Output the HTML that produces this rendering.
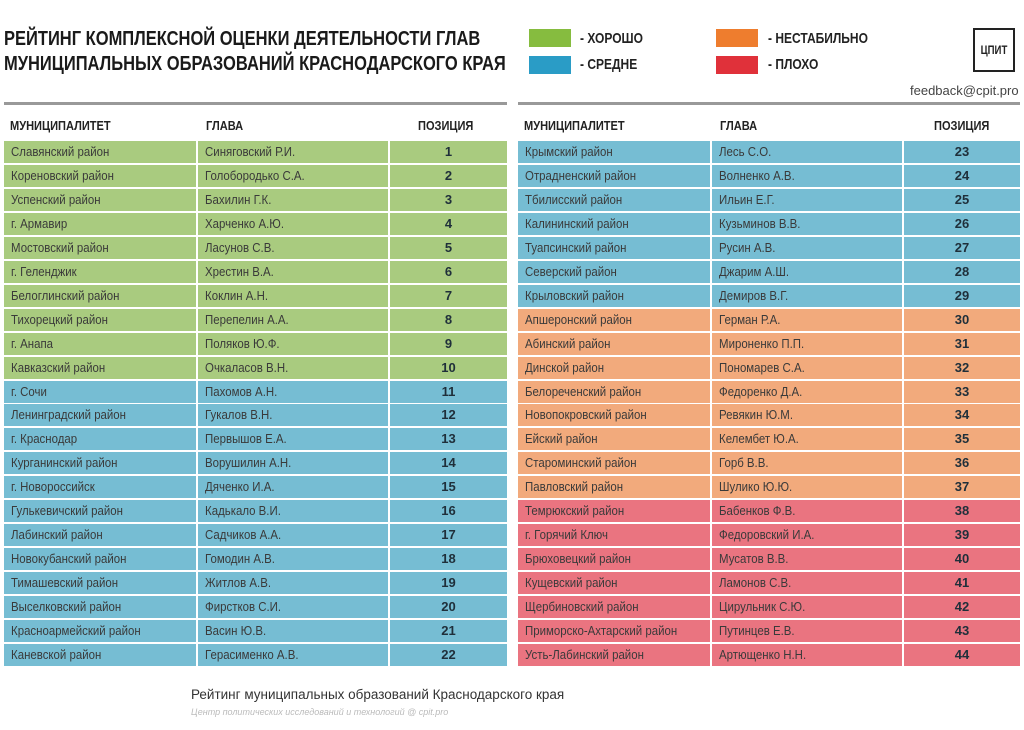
<!DOCTYPE html>
<html><head><meta charset="utf-8">
<style>
body{margin:0;width:1024px;height:730px;background:#fff;position:relative;overflow:hidden;font-family:"Liberation Sans","DejaVu Sans",sans-serif;}
.abs{position:absolute;}
.t{font-weight:bold;font-size:20px;color:#1a1a1a;transform-origin:0 0;transform:scaleX(0.825);white-space:nowrap;}
.sw{width:42px;height:18px;}
.lg{font-weight:bold;font-size:15px;color:#222;transform-origin:0 0;transform:scaleX(0.8);white-space:nowrap;}
.hd{font-weight:bold;font-size:13px;color:#222;transform-origin:0 0;transform:scaleX(0.85);white-space:nowrap;}
.cell{position:absolute;height:22px;line-height:22px;font-size:13px;color:#3a3a3a;white-space:nowrap;overflow:hidden;}
.cell span{display:inline-block;transform-origin:0 50%;transform:scaleX(0.88);padding-left:8px;}
.num{text-align:center;font-weight:bold;color:#1f2f3a;}
</style></head><body>
<div class="abs t" style="left:4px;top:28px">РЕЙТИНГ КОМПЛЕКСНОЙ ОЦЕНКИ ДЕЯТЕЛЬНОСТИ ГЛАВ</div>
<div class="abs t" style="left:4px;top:53px">МУНИЦИПАЛЬНЫХ ОБРАЗОВАНИЙ КРАСНОДАРСКОГО КРАЯ</div>
<div class="abs sw" style="left:529px;top:29px;background:#86bc3f"></div>
<div class="abs lg" style="left:580px;top:30px">- ХОРОШО</div>
<div class="abs sw" style="left:529px;top:56px;background:#2a9cc6"></div>
<div class="abs lg" style="left:580px;top:56px">- СРЕДНЕ</div>
<div class="abs sw" style="left:716px;top:29px;background:#ee7d2e"></div>
<div class="abs lg" style="left:768px;top:30px">- НЕСТАБИЛЬНО</div>
<div class="abs sw" style="left:716px;top:56px;background:#e0313a"></div>
<div class="abs lg" style="left:768px;top:56px">- ПЛОХО</div>
<div class="abs" style="left:973px;top:28px;width:42px;height:44px;border:2px solid #222;box-sizing:border-box;"><div style="font-weight:bold;font-size:12px;line-height:40px;text-align:center;color:#222;transform:scaleX(0.8)">ЦПИТ</div></div>
<div class="abs" style="left:910px;top:83px;font-size:13px;color:#444">feedback@cpit.pro</div>
<div class="abs" style="left:4px;top:102px;width:503px;height:3px;background:#999"></div>
<div class="abs" style="left:518px;top:102px;width:502px;height:3px;background:#999"></div>
<div class="abs hd" style="left:10px;top:118px">МУНИЦИПАЛИТЕТ</div>
<div class="abs hd" style="left:206px;top:118px">ГЛАВА</div>
<div class="abs hd" style="left:418px;top:118px">ПОЗИЦИЯ</div>
<div class="abs hd" style="left:524px;top:118px">МУНИЦИПАЛИТЕТ</div>
<div class="abs hd" style="left:720px;top:118px">ГЛАВА</div>
<div class="abs hd" style="left:934px;top:118px">ПОЗИЦИЯ</div>
<div id="rows"></div>
<div class="abs" style="left:191px;top:687px;font-size:13.5px;color:#333">Рейтинг муниципальных образований Краснодарского края</div>
<div class="abs" style="left:191px;top:707px;font-size:9px;font-style:italic;color:#bbb">Центр политических исследований и технологий @ cpit.pro</div>
<script>
const municipalities=["Славянский район","Кореновский район","Успенский район","г. Армавир","Мостовский район","г. Геленджик","Белоглинский район","Тихорецкий район","г. Анапа","Кавказский район","г. Сочи","Ленинградский район","г. Краснодар","Курганинский район","г. Новороссийск","Гулькевичский район","Лабинский район","Новокубанский район","Тимашевский район","Выселковский район","Красноармейский район","Каневской район","Крымский район","Отрадненский район","Тбилисский район","Калининский район","Туапсинский район","Северский район","Крыловский район","Апшеронский район","Абинский район","Динской район","Белореченский район","Новопокровский район","Ейский район","Староминский район","Павловский район","Темрюкский район","г. Горячий Ключ","Брюховецкий район","Кущевский район","Щербиновский район","Приморско-Ахтарский район","Усть-Лабинский район"];
const heads=["Синяговский Р.И.","Голобородько С.А.","Бахилин Г.К.","Харченко А.Ю.","Ласунов С.В.","Хрестин В.А.","Коклин А.Н.","Перепелин А.А.","Поляков Ю.Ф.","Очкаласов В.Н.","Пахомов А.Н.","Гукалов В.Н.","Первышов Е.А.","Ворушилин А.Н.","Дяченко И.А.","Кадькало В.И.","Садчиков А.А.","Гомодин А.В.","Житлов А.В.","Фирстков С.И.","Васин Ю.В.","Герасименко А.В.","Лесь С.О.","Волненко А.В.","Ильин Е.Г.","Кузьминов В.В.","Русин А.В.","Джарим А.Ш.","Демиров В.Г.","Герман Р.А.","Мироненко П.П.","Пономарев С.А.","Федоренко Д.А.","Ревякин Ю.М.","Келембет Ю.А.","Горб В.В.","Шулико Ю.Ю.","Бабенков Ф.В.","Федоровский И.А.","Мусатов В.В.","Ламонов С.В.","Цирульник С.Ю.","Путинцев Е.В.","Артющенко Н.Н."];
const positions=[1,2,3,4,5,6,7,8,9,10,11,12,13,14,15,16,17,18,19,20,21,22,23,24,25,26,27,28,29,30,31,32,33,34,35,36,37,38,39,40,41,42,43,44];
const grades=["good","good","good","good","good","good","good","good","good","good","mid","mid","mid","mid","mid","mid","mid","mid","mid","mid","mid","mid","mid","mid","mid","mid","mid","mid","mid","unst","unst","unst","unst","unst","unst","unst","unst","bad","bad","bad","bad","bad","bad","bad"];
const colors={good:"#a9cb7f",mid:"#76bdd3",unst:"#f2aa7c",bad:"#ea7480"};
const root=document.getElementById('rows');
positions.forEach((p,i)=>{
  const side=i<22?0:1, r=i%22;
  const x0=side?518:4, y=141+r*23.95;
  const cols=[[0,192,municipalities[i],''],[194,190,heads[i],''],[386,side?116:117,String(p),'num']];
  cols.forEach((c,j)=>{
    const d=document.createElement('div');
    d.className='cell '+c[3];
    d.style.left=(x0+c[0])+'px';d.style.top=y+'px';d.style.width=c[1]+'px';
    d.style.background=colors[grades[i]];
    
    
    if(c[3]==='num'){d.textContent=c[2];}else{const s=document.createElement('span');s.textContent=c[2];d.appendChild(s);}
    root.appendChild(d);
  });
});
</script>
</body></html>
